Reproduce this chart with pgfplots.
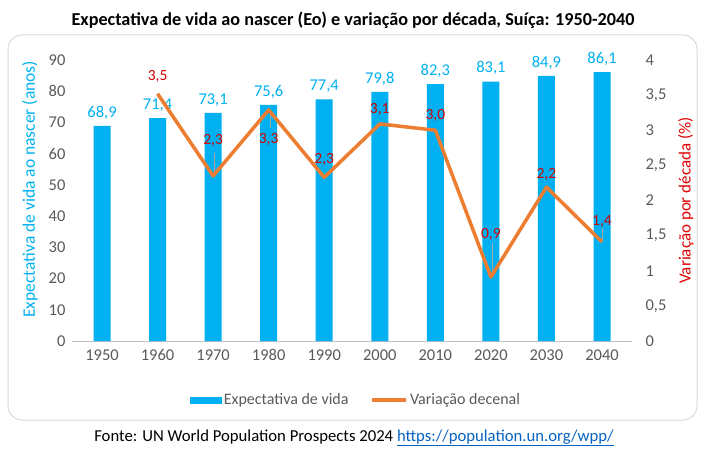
\documentclass[border=0pt]{standalone}
\usepackage{fontspec}
\setmainfont{Carlito}
\usepackage{pgfplots}
\pgfplotsset{compat=1.18}
\definecolor{barblue}{HTML}{00B0F0}
\definecolor{lineorange}{HTML}{ED7D31}
\definecolor{lblred}{HTML}{D00000}
\definecolor{rightred}{HTML}{E00000}
\definecolor{tickgray}{HTML}{595959}
\definecolor{framegray}{HTML}{D9D9D9}
\definecolor{linkblue}{HTML}{0563C1}
\definecolor{leadergray}{HTML}{A6A6A6}
\begin{document}
\begin{tikzpicture}
\path (0pt,0pt) rectangle (706pt,453pt);
\draw[framegray, rounded corners=14pt, line width=1pt] (8pt,33pt) rectangle (697pt,418pt);
\node[font=\fontsize{18.2}{21}\selectfont\bfseries] at (353pt,433pt) {Expectativa de vida ao nascer (Eo) e variação por década, Suíça: 1950-2040};
\node[font=\fontsize{16.7}{19}\selectfont] at (354pt,15pt) {Fonte: UN World Population Prospects 2024 \textcolor{linkblue}{\underline{https://population.un.org/wpp/}}};
\begin{axis}[
  at={(72pt,112pt)}, anchor=south west,
  scale only axis, width=560pt, height=281pt,
  xmin=-0.54, xmax=9.54, ymin=0, ymax=90,
  xtick={0,...,9},
  xticklabels={1950,1960,1970,1980,1990,2000,2010,2020,2030,2040},
  ytick={0,10,...,90},
  axis x line*=bottom, axis y line*=left,
  y axis line style={draw=none},
  x axis line style={draw=black!25, line width=0.8pt},
  major tick length=0pt,
  /pgf/number format/assume math mode=true,
  tick label style={font=\fontsize{16.5}{19}\selectfont, text=tickgray},
  xticklabel style={yshift=-5pt},
  yticklabel style={xshift=-3pt},
  ylabel={Expectativa de vida ao nascer (anos)},
  ylabel style={font=\fontsize{17.5}{20}\selectfont, text=barblue, at={(axis description cs:-0.075,0.54)}, anchor=center},
  clip=false,
  ybar, bar width=17pt,
  nodes near coords={\pgfmathprintnumber[fixed,fixed zerofill,precision=1,use comma]{\pgfplotspointmeta}},
  every node near coord/.append style={font=\fontsize{16.5}{19}\selectfont, text=barblue, yshift=3pt},
  legend style={draw=none, at={(axis description cs:0.507,-0.21)}, anchor=center, legend columns=2,
    font=\fontsize{16}{19}\selectfont, text=tickgray,
    /tikz/every even column/.append style={column sep=20pt}},
]
\addplot[fill=barblue, draw=none,
  area legend,
  legend image code/.code={\fill[barblue] (0pt,-3.5pt) rectangle (32pt,3.5pt);}]
  coordinates {(0,68.9) (1,71.4) (2,73.1) (3,75.6) (4,77.4) (5,79.8) (6,82.3) (7,83.1) (8,84.9) (9,86.1)};
\addlegendentry{Expectativa de vida}
\addlegendimage{legend image code/.code={\draw[lineorange, line width=3.5pt] (0pt,0pt) -- (34pt,0pt);}}
\addlegendentry{Variação decenal}
\end{axis}
\begin{axis}[
  at={(72pt,112pt)}, anchor=south west,
  scale only axis, width=560pt, height=281pt,
  xmin=-0.54, xmax=9.54, ymin=0, ymax=4,
  axis x line=none, axis y line*=right,
  y axis line style={draw=none},
  major tick length=0pt,
  ytick={0,0.5,1,1.5,2,2.5,3,3.5,4},
  /pgf/number format/assume math mode=true,
  /pgf/number format/use comma,
  tick label style={font=\fontsize{16.5}{19}\selectfont, text=tickgray},
  yticklabel style={xshift=10pt},
  ylabel={Variação por década (\%)},
  ylabel style={font=\fontsize{17}{20}\selectfont, text=rightred, at={(axis description cs:1.096,0.50)}, anchor=center},
  clip=false,
]
% leader lines of the data labels
\addplot[leadergray, line width=0.7pt, forget plot] coordinates {(2.03,2.68) (2.03,2.38)};
\addplot[leadergray, line width=0.7pt, forget plot] coordinates {(3.03,3.26) (3.03,3.03)};
\addplot[leadergray, line width=0.7pt, forget plot] coordinates {(7.03,1.40) (7.03,0.96)};
\addplot[leadergray, line width=0.7pt, forget plot] coordinates {(9.0,1.61) (9.0,1.43)};
\addplot[lineorange, line width=3.5pt, line join=round,
  nodes near coords, point meta=explicit symbolic,
  visualization depends on={value \thisrow{dy}\as\dy},
  every node near coord/.append style={font=\fontsize{15.5}{18}\selectfont, text=lblred, anchor=center, yshift=\dy}]
  table[x=x, y=y, meta=lab] {
x y lab dy
1 3.52 3,5 17
2 2.35 2,3 35
3 3.29 3,3 -30
4 2.33 2,3 18
5 3.09 3,1 14
6 3.00 3,0 15
7 0.91 0,9 43
8 2.19 2,2 13
9 1.41 1,4 20
};
\end{axis}
\end{tikzpicture}
\end{document}
